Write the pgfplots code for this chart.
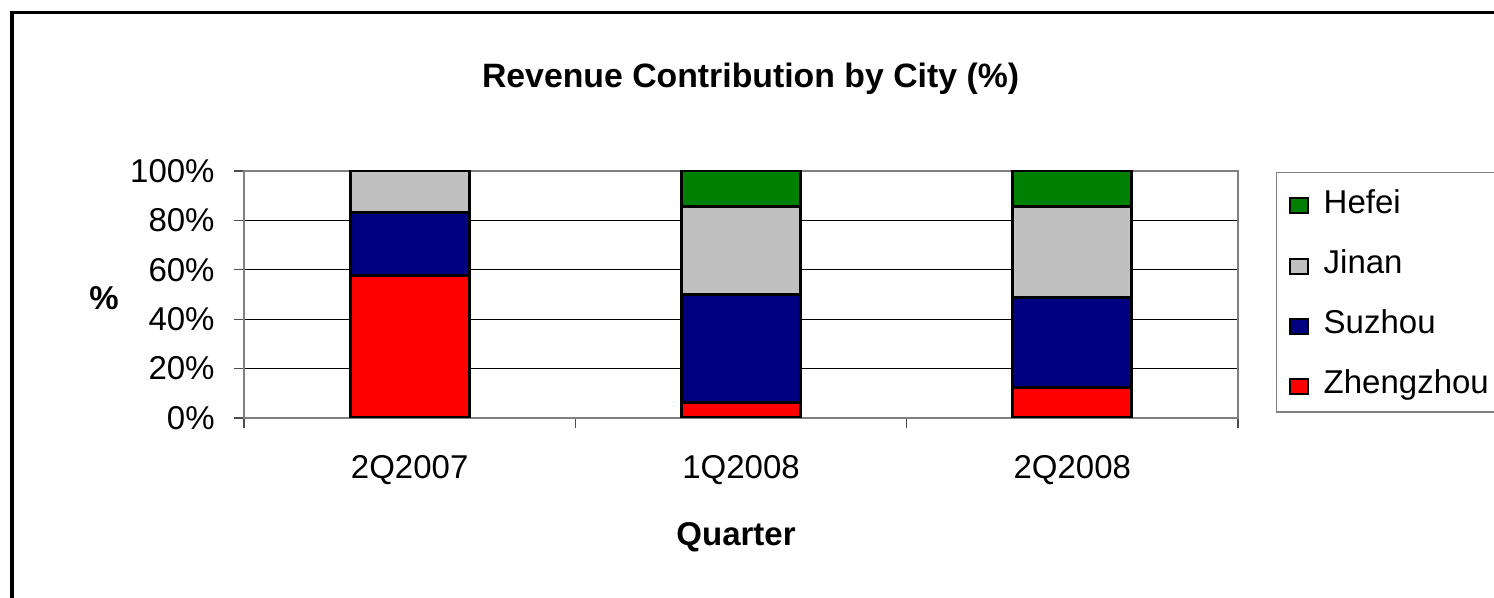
\documentclass[border=0pt]{standalone}
\usepackage{fontspec}
\setmainfont{Liberation Sans}
\usepackage{pgfplots}
\pgfplotsset{compat=1.18}
\definecolor{cZheng}{RGB}{255,0,0}
\definecolor{cSuz}{RGB}{0,0,128}
\definecolor{cJin}{RGB}{192,192,192}
\definecolor{cHef}{RGB}{0,128,0}
\definecolor{axgray}{RGB}{128,128,128}
\begin{document}
\begin{tikzpicture}[x=1pt,y=1pt]
\useasboundingbox (0,0) rectangle (747,299);
\draw[line width=1.65pt] (6,-10) -- (6,292.75) -- (760,292.75);
\begin{axis}[
  at={(122pt,90pt)}, anchor=south west,
  scale only axis, width=497pt, height=123.5pt,
  ybar stacked, bar width=59.5pt,
  xmin=0.5, xmax=3.5, ymin=0, ymax=100,
  xtick={0.5,1.5,2.5,3.5}, xticklabels={},
  extra x ticks={1,2,3},
  extra x tick labels={2Q2007,1Q2008,2Q2008},
  extra x tick style={major tick length=0pt},
  ytick={0,20,40,60,80,100},
  yticklabels={0\%,20\%,40\%,60\%,80\%,100\%},
  tick align=outside, tick pos=left,
  major tick length=5pt,
  tick style={black!70, line width=0.6pt},
  ymajorgrids,
  grid style={black, line width=0.5pt},
  axis line style={axgray, line width=1pt},
  tick label style={font=\fontsize{16.5}{18}\selectfont},
  xticklabel style={anchor=base, inner sep=0pt, yshift=-30.5pt},
  yticklabel style={anchor=east, inner sep=0pt, xshift=-9.5pt},
  title={Revenue Contribution by City (\%)},
  title style={font=\fontsize{16.9}{20}\selectfont\bfseries, at={(axis description cs:0.5096,1.2875)}, anchor=base, yshift=0pt},
  xlabel={Quarter},
  xlabel style={font=\fontsize{16.5}{18}\selectfont\bfseries, at={(axis description cs:0.495,-0.518)}, anchor=base},
  ylabel={\%},
  ylabel style={font=\fontsize{16.5}{18}\selectfont\bfseries, rotate=-90, at={(axis description cs:-0.1408,0.441)}, anchor=base},
  every axis plot post/.append style={legend image code/.code={\draw[#1, line width=1pt] (0pt,0pt) rectangle (9pt,7.5pt);}},
  reverse legend,
  legend cell align=left,
  legend style={at={(1.0382,0.996)}, anchor=north west, draw=axgray, line width=0.75pt, fill=white,
    font=\fontsize{16.5}{18}\selectfont, inner xsep=6pt, inner ysep=8.5pt, row sep=17.8pt, column sep=7.5pt,
    nodes={inner sep=0pt, text height=11.8pt, text depth=0pt, anchor=base west}},
]
\addplot[fill=cZheng, draw=black, line width=1.5pt] coordinates {(1,57.5) (2,6.3) (3,12.5)};
\addplot[fill=cSuz, draw=black, line width=1.5pt] coordinates {(1,25.8) (2,43.7) (3,36.4)};
\addplot[fill=cJin, draw=black, line width=1.5pt] coordinates {(1,16.7) (2,35.8) (3,36.9)};
\addplot[fill=cHef, draw=black, line width=1.5pt] coordinates {(1,0) (2,14.2) (3,14.2)};
\legend{Zhengzhou,Suzhou,Jinan,Hefei}
\end{axis}
\end{tikzpicture}
\end{document}
